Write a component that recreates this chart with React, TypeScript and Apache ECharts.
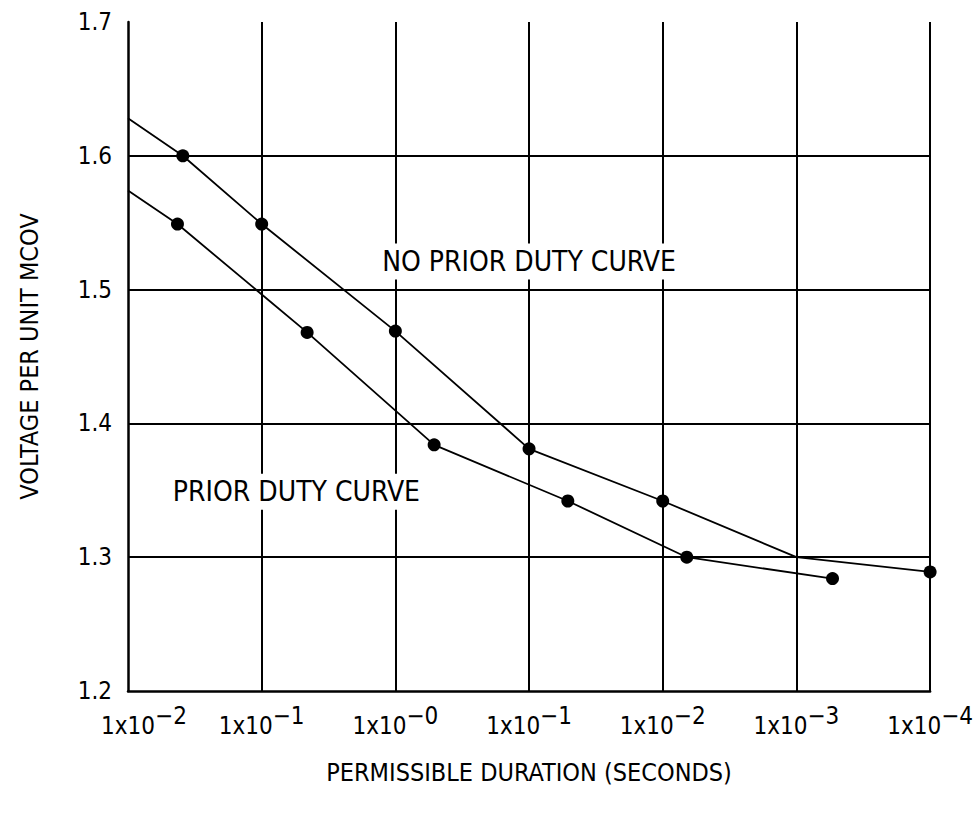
import React, { useEffect, useRef } from "react";
import * as echarts from "echarts";

const FONT = "'DejaVu Sans Condensed', 'Liberation Sans Narrow', sans-serif";

// x positions are decades on a log scale, index 0..6
const xTickExponents = ["\u22122", "\u22121", "\u22120", "\u22121", "\u22122", "\u22123", "\u22124"];
const yTicks = [1.2, 1.3, 1.4, 1.5, 1.6, 1.7];

// NO PRIOR DUTY CURVE
const noPriorX = [0, 0.41, 1, 2, 3, 4, 5, 6];
const noPriorY = [1.628, 1.6, 1.549, 1.469, 1.381, 1.342, 1.3, 1.289];
const noPriorMarked = [false, true, true, true, true, true, false, true];

// PRIOR DUTY CURVE
const priorX = [0, 0.37, 1.34, 2.29, 3.29, 4.18, 5.27];
const priorY = [1.574, 1.549, 1.468, 1.384, 1.342, 1.3, 1.284];
const priorMarked = [false, true, true, true, true, true, true];

const noPriorLabel = { text: "NO PRIOR DUTY CURVE", x: 3.0, y: 1.521 };
const priorLabel = { text: "PRIOR DUTY CURVE", x: 1.26, y: 1.349 };

function buildData(xs: number[], ys: number[], marked: boolean[]) {
  return xs.map((x, i) => ({
    value: [x, ys[i]],
    symbol: marked[i] ? "circle" : "none",
  }));
}

function annotation(a: { text: string; x: number; y: number }) {
  return {
    symbol: "circle",
    symbolSize: 0,
    silent: true,
    data: [
      {
        coord: [a.x, a.y],
        label: {
          show: true,
          position: "inside",
          formatter: a.text,
          color: "#000",
          fontFamily: FONT,
          fontSize: 28,
          backgroundColor: "#fff",
          padding: [4, 6],
        },
      },
    ],
  };
}

export default function App() {
  const ref = useRef<HTMLDivElement>(null);
  useEffect(() => {
    document.body.style.margin = "0";
    if (!ref.current) return;
    const chart = echarts.init(ref.current, null, { renderer: "svg" });
    chart.setOption({
      animation: false,
      backgroundColor: "#fff",
      grid: { left: 128, right: 44, top: 22, bottom: 123 },
      xAxis: {
        type: "value",
        min: 0,
        max: 6,
        interval: 1,
        name: "PERMISSIBLE DURATION (SECONDS)",
        nameLocation: "middle",
        nameGap: 69,
        nameTextStyle: { fontFamily: FONT, fontSize: 25, color: "#000" },
        axisLine: { show: true, onZero: false, lineStyle: { color: "#000", width: 2.5 } },
        axisTick: { show: false },
        splitLine: { show: true, showMinLine: false, lineStyle: { color: "#000", width: 2 } },
        axisLabel: {
          margin: 13,
          color: "#000",
          fontFamily: FONT,
          formatter: (v: number) => {
            const i = Math.round(v);
            const e = xTickExponents[i] ?? "";
            return i === 0 ? `{pad|}{b|1x10}{s|${e}}` : `{b|1x10}{s|${e}}`;
          },
          rich: {
            b: { fontFamily: FONT, fontSize: 24, color: "#000" },
            s: { fontFamily: FONT, fontSize: 24, color: "#000", padding: [0, 0, 20, 0] },
            pad: { width: 32 },
          },
        },
      },
      yAxis: {
        type: "value",
        min: 1.2,
        max: 1.7,
        interval: 0.1,
        name: "VOLTAGE PER UNIT MCOV",
        nameLocation: "middle",
        nameGap: 86,
        nameTextStyle: { fontFamily: FONT, fontSize: 25, color: "#000" },
        axisLine: { show: true, lineStyle: { color: "#000", width: 2.5 } },
        axisTick: { show: false },
        splitLine: {
          show: true,
          showMinLine: false,
          showMaxLine: false,
          lineStyle: { color: "#000", width: 2 },
        },
        axisLabel: {
          margin: 16,
          color: "#000",
          fontFamily: FONT,
          fontSize: 24,
          formatter: (v: number) => {
            const t = yTicks.find((y) => Math.abs(y - v) < 1e-6);
            return (t ?? v).toFixed(1);
          },
        },
      },
      series: [
        {
          type: "line",
          name: "NO PRIOR DUTY CURVE",
          data: buildData(noPriorX, noPriorY, noPriorMarked),
          symbolSize: 13,
          showAllSymbol: true,
          lineStyle: { color: "#000", width: 1.8 },
          itemStyle: { color: "#000" },
          markPoint: annotation(noPriorLabel),
          z: 3,
        },
        {
          type: "line",
          name: "PRIOR DUTY CURVE",
          data: buildData(priorX, priorY, priorMarked),
          symbolSize: 13,
          showAllSymbol: true,
          lineStyle: { color: "#000", width: 1.8 },
          itemStyle: { color: "#000" },
          markPoint: annotation(priorLabel),
          z: 3,
        },
      ],
    });
    return () => chart.dispose();
  }, []);
  return <div ref={ref} style={{ width: 976, height: 814 }} />;
}
